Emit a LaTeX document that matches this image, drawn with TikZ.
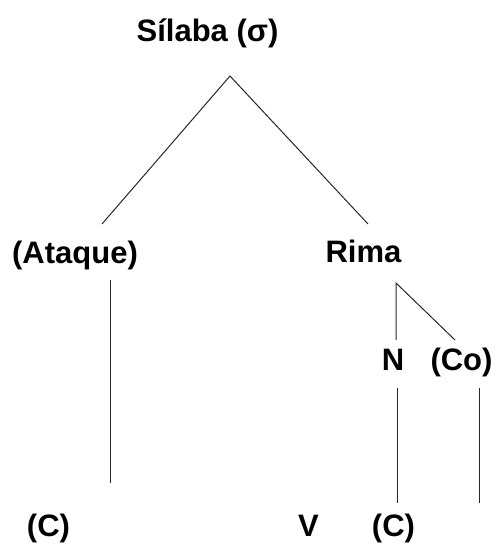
\documentclass[tikz,border=0pt]{standalone}
\usepackage{fontspec}
\setmainfont{Liberation Sans}
\begin{document}
\begin{tikzpicture}[x=1pt,y=-1pt,
  lbl/.style={font=\fontsize{31}{37}\selectfont\bfseries, inner sep=0pt, anchor=base},
  ln/.style={black!85, line width=1pt}]
  \useasboundingbox (0,0) rectangle (497,545);

  % labels
  \node[lbl] (silaba) at (207.5,42) {Sílaba (σ)};
  \node[lbl] (ataque) at (75,263) {(Ataque)};
  \node[lbl] (rima) at (363.5,262) {Rima};
  \node[lbl] (nucleo) at (393,370) {N};
  \node[lbl] (coda) at (461.5,370) {(Co)};
  \node[lbl] (cons1) at (48.5,536) {(C)};
  \node[lbl] (vogal) at (308.5,536) {V};
  \node[lbl] (cons2) at (393.5,536) {(C)};

  % line ends
  \coordinate (apex) at (230,76);
  \coordinate (ataque-up) at (102,224);
  \coordinate (rima-up) at (368,224);
  \coordinate (ataque-down) at (110,280);
  \coordinate (cons1-up) at (110,483);
  \coordinate (rima-down) at (396,283);
  \coordinate (nucleo-up) at (396,340);
  \coordinate (coda-up) at (455,340);
  \coordinate (nucleo-down) at (397,388);
  \coordinate (cons2-up) at (397,503);
  \coordinate (coda-down) at (479,388);
  \coordinate (coda-end) at (479,503);

  \draw[ln] (ataque-up) -- (apex) -- (rima-up);
  \draw[ln] (ataque-down) -- (cons1-up);
  \draw[ln] (nucleo-up) -- (rima-down) -- (coda-up);
  \draw[ln] (nucleo-down) -- (cons2-up);
  \draw[ln] (coda-down) -- (coda-end);
\end{tikzpicture}
\end{document}
